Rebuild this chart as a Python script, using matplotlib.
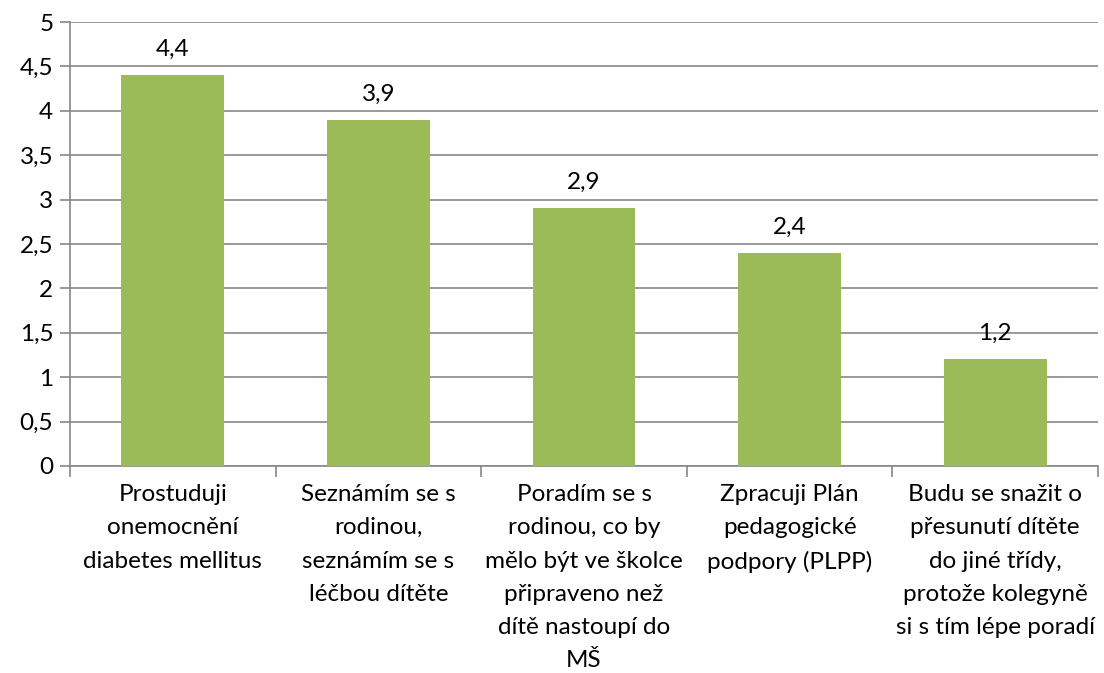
import matplotlib
matplotlib.use("Agg")
import matplotlib.pyplot as plt
from matplotlib.ticker import FuncFormatter, FixedLocator

categories = [
    "Prostuduji\nonemocnění\ndiabetes mellitus",
    "Seznámím se s\nrodinou,\nseznámím se s\nléčbou dítěte",
    "Poradím se s\nrodinou, co by\nmělo být ve školce\npřipraveno než\ndítě nastoupí do\nMŠ",
    "Zpracuji Plán\npedagogické\npodpory (PLPP)",
    "Budu se snažit o\npřesunutí dítěte\ndo jiné třídy,\nprotože kolegyně\nsi s tím lépe poradí",
]
values = [4.4, 3.9, 2.9, 2.4, 1.2]
y_ticks = [0, 0.5, 1, 1.5, 2, 2.5, 3, 3.5, 4, 4.5, 5]

plt.rcParams['font.family'] = ['Lato', 'DejaVu Sans']

fig = plt.figure(figsize=(11.04, 6.73), dpi=100)
ax = fig.add_axes([0.0634, 0.3076, 0.9312, 0.6597])

grid_c = "#888888"
fs = 17.5
x = list(range(len(values)))
bars = ax.bar(x, values, width=0.5, color="#9BBB59", zorder=3)

ax.set_xlim(-0.5, len(values) - 0.5)
ax.set_ylim(0, 5)
ax.set_yticks(y_ticks)
ax.yaxis.set_major_formatter(FuncFormatter(lambda v, p: ("%g" % v).replace(".", ",")))
ax.grid(axis="y", color=grid_c, linewidth=1.2, zorder=0)
ax.set_axisbelow(True)

for s in ["top", "right"]:
    ax.spines[s].set_visible(False)
for s in ["left", "bottom"]:
    ax.spines[s].set_color(grid_c)
    ax.spines[s].set_linewidth(1.2)

ax.tick_params(axis="y", length=7, color=grid_c, width=1.2, labelsize=fs, pad=5)
ax.set_xticks(x)
ax.set_xticklabels(categories, fontsize=fs, linespacing=1.72, va="top")
ax.tick_params(axis="x", length=0, pad=13)
ax.xaxis.set_minor_locator(FixedLocator([i - 0.5 for i in range(len(values) + 1)]))
ax.tick_params(axis="x", which="minor", length=8, color=grid_c, width=1.2)

for xi, v in zip(x, values):
    ax.annotate(("%g" % v).replace(".", ","), (xi, v), xytext=(0, 11),
                textcoords="offset points", ha="center", va="bottom", fontsize=fs)

fig.savefig("out.png", dpi=100)
